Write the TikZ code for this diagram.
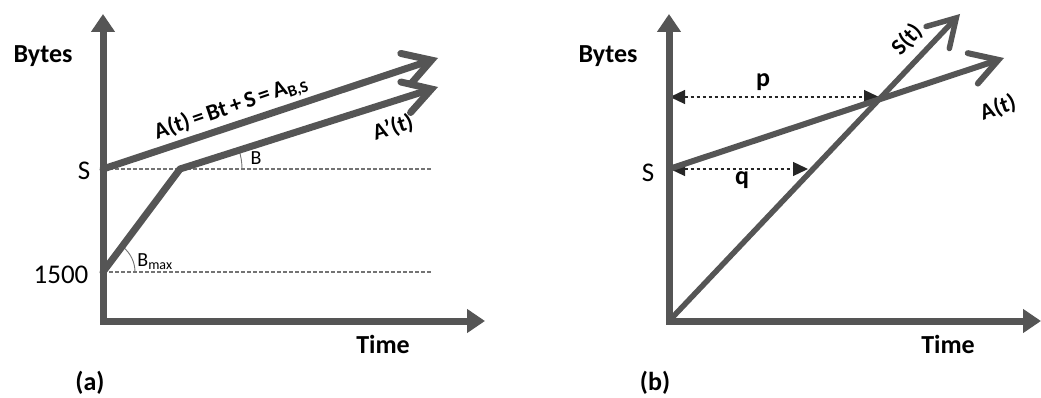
\documentclass[tikz,border=0pt]{standalone}
\usepackage{fontspec}
\setmainfont{Carlito}
\usepackage{xcolor}
\usetikzlibrary{arrows.meta}

\definecolor{linegray}{RGB}{85,85,85}
\definecolor{dashgray}{RGB}{115,115,115}

\tikzset{
	axis/.style={linegray,line width=7pt,line join=miter,
		{Triangle[length=18pt,width=23pt]}-{Triangle[length=18pt,width=23pt]}},
	rate/.style={linegray,line width=7pt,line join=round,line cap=round,
		-{Straight Barb[length=27pt,width=32pt,line cap=round]}},
	level/.style={dashgray,line width=1.1pt,dash pattern=on 3.5pt off 2.5pt},
	gap/.style={black!85,line width=1.3pt,dash pattern=on 3.5pt off 2.5pt,
		{Triangle[length=15pt,width=14pt]}-{Triangle[length=15pt,width=14pt]}},
	angle/.style={dashgray,line width=0.9pt},
	big/.style={font=\fontsize{26}{30}\selectfont\bfseries},
	tick/.style={font=\fontsize{27}{30}\selectfont},
	slope/.style={font=\fontsize{23}{27}\selectfont\bfseries},
	small/.style={font=\fontsize{20}{22}\selectfont},
}

\begin{document}
\begin{tikzpicture}[x=1pt,y=-1pt]
	
	\useasboundingbox (0,0) rectangle (1041,398);
	
	% ---------- (a) ----------
	\coordinate (ya) at (103,14);
	\coordinate (oa) at (103,321);
	\coordinate (xa) at (485,321);
	\coordinate (sa) at (103,169);
	\coordinate (ma) at (103,272);
	\coordinate (kink) at (180,169);
	\coordinate (atip) at (438,58);
	\coordinate (aptip) at (438,87);
	\coordinate (sa end) at (432,169);
	\coordinate (ma end) at (432,272);
	
	% levels S and 1500
	\draw[level] (sa) -- (sa end);
	\draw[level] (ma) -- (ma end);
	
	% angles
	\draw[angle] (ma) ++(32pt,0) arc[start angle=0,end angle=53,radius=32pt];
	\draw[angle] (kink) ++(62pt,0) arc[start angle=0,end angle=17.7,radius=62pt];
	
	% arrival curves
	\draw[rate] (sa) -- (atip);
	\draw[rate] (ma) -- (kink) -- (aptip);
	
	\draw[axis] (ya) -- (oa) -- (xa);
	
	\node[big] (bytesa) at (43,56) {Bytes};
	\node[big] (timea) at (383,344) {Time};
	\node[tick] (ticks) at (84,171) {S};
	\node[tick] (tickm) at (61,275) {1500};
	\node[slope,rotate=19] (lbla) at (231,108) {A(t)\,=\,Bt\,+\,S\,=\,A\textsubscript{B,S}};
	\node[slope,rotate=18] (lblap) at (393,128) {A’(t)};
	\node[small] (lblb) at (256,158) {B};
	\node[small] (lblbmax) at (155,262) {B\textsubscript{max}};
	\node[big] (capa) at (90,383) {(a)};
	
	% ---------- (b) ----------
	\coordinate (yb) at (669,14);
	\coordinate (ob) at (669,321);
	\coordinate (xb) at (1041,321);
	\coordinate (sb) at (669,169);
	\coordinate (abtip) at (1004,58);
	\coordinate (sttip) at (960,14);
	\coordinate (pl) at (670,97);
	\coordinate (pr) at (879,97);
	\coordinate (ql) at (670,169);
	\coordinate (qr) at (808,169);
	
	% horizontal gaps p and q
	\draw[gap] (pl) -- (pr);
	\draw[gap] (ql) -- (qr);
	
	\draw[rate,line width=6pt] (sb) -- (abtip);
	\draw[rate,line width=5.5pt] (ob) -- (sttip);
	
	\draw[axis] (yb) -- (ob) -- (xb);
	
	\node[big] (bytesb) at (608,56) {Bytes};
	\node[big] (timeb) at (948,344) {Time};
	\node[tick] (tickb) at (648,173) {S};
	\node[big] (lblp) at (763,82) {p};
	\node[big] (lblq) at (742,180) {q};
	\node[slope,rotate=47] (lblst) at (907,40) {S(t)};
	\node[slope,rotate=19] (lblat) at (998,108) {A(t)};
	\node[big] (capb) at (655,383) {(b)};
	
\end{tikzpicture}
\end{document}
